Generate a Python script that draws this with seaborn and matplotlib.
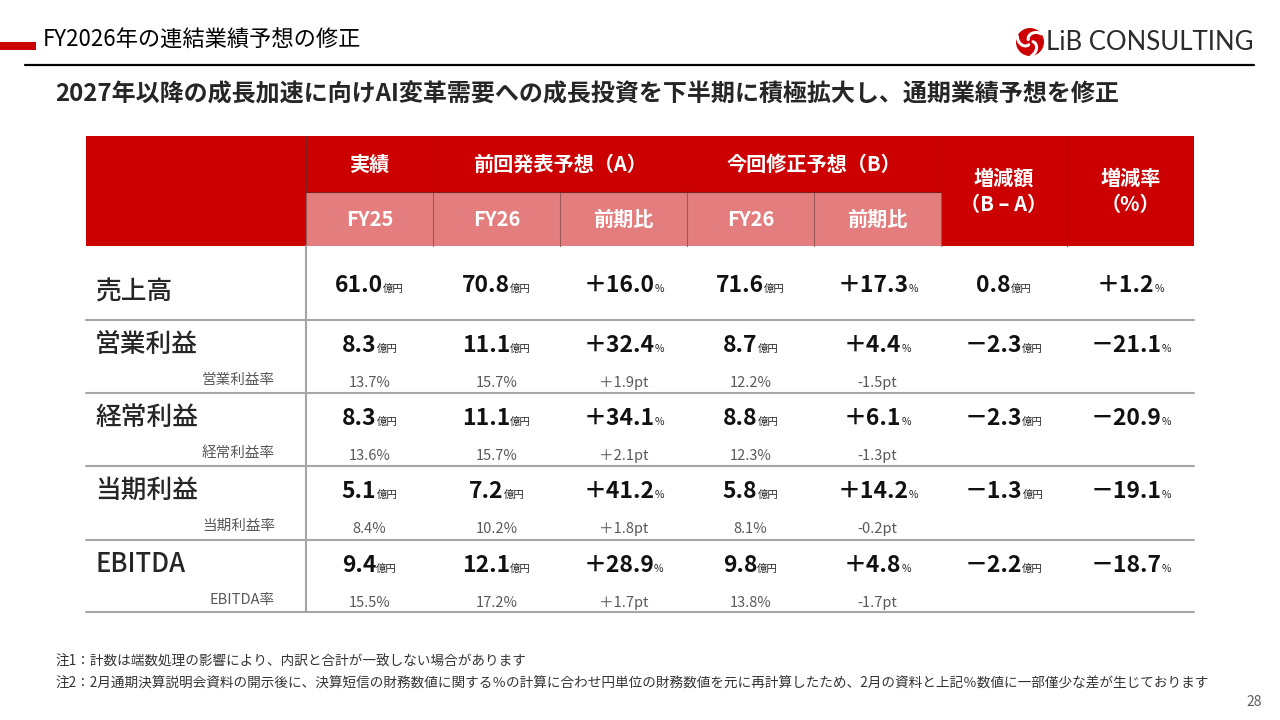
import numpy as np
import matplotlib.pyplot as plt
import matplotlib.patches as mpatches
import seaborn as sns

# ---- data ----
items = ["売上高", "営業利益", "経常利益", "当期利益", "EBITDA"]
margin_labels = [None, "営業利益率", "経常利益率", "当期利益率", "EBITDA率"]

fy25_actual = [61.0, 8.3, 8.3, 5.1, 9.4]
prev_fy26 = [70.8, 11.1, 11.1, 7.2, 12.1]
prev_yoy = [16.0, 32.4, 34.1, 41.2, 28.9]
rev_fy26 = [71.6, 8.7, 8.8, 5.8, 9.8]
rev_yoy = [17.3, 4.4, 6.1, 14.2, 4.8]
diff_amount = [0.8, -2.3, -2.3, -1.3, -2.2]
diff_rate = [1.2, -21.1, -20.9, -19.1, -18.7]

fy25_margin = [None, 13.7, 13.6, 8.4, 15.5]
prev_margin = [None, 15.7, 15.7, 10.2, 17.2]
prev_margin_chg = [None, 1.9, 2.1, 1.8, 1.7]
rev_margin = [None, 12.2, 12.3, 8.1, 13.8]
rev_margin_chg = [None, -1.5, -1.3, -0.2, -1.7]

title = "FY2026年の連結業績予想の修正"
subtitle = "2027年以降の成長加速に向けAI変革需要への成長投資を下半期に積極拡大し、通期業績予想を修正"
notes = [
    "注1：計数は端数処理の影響により、内訳と合計が一致しない場合があります",
    "注2：2月通期決算説明会資料の開示後に、決算短信の財務数値に関する％の計算に合わせ円単位の財務数値を元に再計算したため、2月の資料と上記％数値に一部僅少な差が生じております",
]

RED = "#CC0000"
PINK = "#E47D7D"
GRID = "#A6A6A6"
GRAY = "#595959"

sns.set_theme(style="white")
plt.rcParams["font.family"] = ["Noto Sans CJK JP", "DejaVu Sans"]

fig = plt.figure(figsize=(12.8, 7.2), dpi=100)
ax = fig.add_axes([0, 0, 1, 1])
ax.set_xlim(0, 1280)
ax.set_ylim(720, 0)
ax.axis("off")
renderer = fig.canvas.get_renderer()

# ---- slide header ----
ax.add_patch(mpatches.Rectangle((0, 42), 36, 8, color=RED, lw=0))
ax.text(43, 40, title, fontsize=16, va="center", ha="left", color="black")
ax.plot([25, 1254], [65, 65], color="black", lw=1.6)
ax.text(55, 95, subtitle, fontsize=17.3, weight="bold", va="center", ha="left")

# logo
cx, cy, R = 1030, 42, 14
ax.add_patch(mpatches.Circle((cx, cy), R, color=RED, lw=0))
for k in range(3):
    r = np.linspace(3, R, 30)
    a = np.deg2rad(90 + 120 * k) + 2.0 * r / R
    ax.plot(cx + r * np.cos(a), cy + r * np.sin(a), color="white", lw=2.2,
            solid_capstyle="round")
ax.text(1046, 43, "LiB CONSULTING", fontsize=18.5, family=["Lato", "DejaVu Sans"],
        va="center", ha="left", color="#2b2b2b")

# ---- table layout ----
col_edges = [86, 306, 433, 560, 687, 814, 941, 1067, 1194]
head_y = [136, 192, 246]
body_y = [246, 320, 393, 466, 540, 612]
centers = [(col_edges[i] + col_edges[i + 1]) / 2 for i in range(len(col_edges) - 1)]


def cell(x0, x1, y0, y1, color):
    ax.add_patch(mpatches.Rectangle((x0, y0), x1 - x0, y1 - y0, color=color, lw=0))


# header backgrounds
cell(col_edges[0], col_edges[1], head_y[0], head_y[2], RED)
cell(col_edges[1], col_edges[6], head_y[0], head_y[1], RED)
cell(col_edges[1], col_edges[6], head_y[1], head_y[2], PINK)
cell(col_edges[6], col_edges[8], head_y[0], head_y[2], RED)

sep = "#7a2020"
for x in [col_edges[1], col_edges[2], col_edges[4], col_edges[6], col_edges[7]]:
    ax.plot([x, x], [head_y[0], head_y[1]], color=sep, lw=0.8)
for x in col_edges[1:7]:
    ax.plot([x, x], [head_y[1], head_y[2]], color="#9a5a5a", lw=0.8)
ax.plot([col_edges[1], col_edges[6]], [head_y[1], head_y[1]], color=sep, lw=0.8)
ax.plot([col_edges[7], col_edges[7]], [head_y[1], head_y[2]], color=sep, lw=0.8)

hkw = dict(fontsize=14.5, weight="bold", color="white", ha="center", va="center")
ax.text(centers[1], 164, "実績", **hkw)
ax.text((col_edges[2] + col_edges[4]) / 2, 164, "前回発表予想（A）", **hkw)
ax.text((col_edges[4] + col_edges[6]) / 2, 164, "今回修正予想（B）", **hkw)
for i, s in zip(range(1, 6), ["FY25", "FY26", "前期比", "FY26", "前期比"]):
    ax.text(centers[i], 219, s, **hkw)
ax.text(centers[6], 178, "増減額", **hkw)
ax.text(centers[6], 204, "（B – A）", **hkw)
ax.text(centers[7], 178, "増減率", **hkw)
ax.text(centers[7], 204, "（%）", **hkw)

# body grid
for y in body_y[1:]:
    ax.plot([col_edges[0], col_edges[-1]], [y, y], color=GRID, lw=1.5)
ax.plot([col_edges[1], col_edges[1]], [body_y[0], body_y[-1]], color=GRID, lw=1.5)


def signed(v, plus=True):
    if v < 0:
        return "－" + f"{abs(v):.1f}"
    return ("＋" if plus else "") + f"{v:.1f}"


def compound(xc, yb, big, small, size=16.5):
    t1 = ax.text(0, yb, big, fontsize=size, weight="bold", ha="left", va="baseline",
                 color="#111111")
    t2 = ax.text(0, yb, small, fontsize=7.5, ha="left", va="baseline")
    w1 = t1.get_window_extent(renderer).width
    w2 = t2.get_window_extent(renderer).width
    x0 = xc - (w1 + w2) / 2
    t1.set_x(x0)
    t2.set_x(x0 + w1)


def pt(v):
    return ("-" if v < 0 else "＋") + f"{abs(v):.1f}pt"


skw = dict(fontsize=10.5, color=GRAY, ha="center", va="baseline")
for r, name in enumerate(items):
    top = body_y[r]
    if r == 0:
        yb, ylab = top + 46, top + 46
    else:
        yb, ylab = top + 32, top + 24
    ax.text(95, ylab, name, fontsize=18.5, ha="left", va="center", weight="medium")
    compound(centers[1], yb, f"{fy25_actual[r]:.1f}", "億円")
    compound(centers[2], yb, f"{prev_fy26[r]:.1f}", "億円")
    compound(centers[3], yb, signed(prev_yoy[r]), "%")
    compound(centers[4], yb, f"{rev_fy26[r]:.1f}", "億円")
    compound(centers[5], yb, signed(rev_yoy[r]), "%")
    compound(centers[6], yb, signed(diff_amount[r], plus=False), "億円")
    compound(centers[7], yb, signed(diff_rate[r]), "%")
    if margin_labels[r]:
        ys = top + 67
        ax.text(275, top + 60, margin_labels[r], fontsize=10.5, color=GRAY,
                ha="right", va="center")
        ax.text(centers[1], ys, f"{fy25_margin[r]:.1f}%", **skw)
        ax.text(centers[2], ys, f"{prev_margin[r]:.1f}%", **skw)
        ax.text(centers[3], ys, pt(prev_margin_chg[r]), **skw)
        ax.text(centers[4], ys, f"{rev_margin[r]:.1f}%", **skw)
        ax.text(centers[5], ys, pt(rev_margin_chg[r]), **skw)

# ---- footnotes ----
ax.text(55, 662, notes[0], fontsize=9.8, color="#333333", ha="left", va="center")
ax.text(55, 684, notes[1], fontsize=9.8, color="#333333", ha="left", va="center")
ax.text(1262, 702, "28", fontsize=10, color=GRAY, ha="right", va="center")

fig.savefig("out.png", dpi=100)
